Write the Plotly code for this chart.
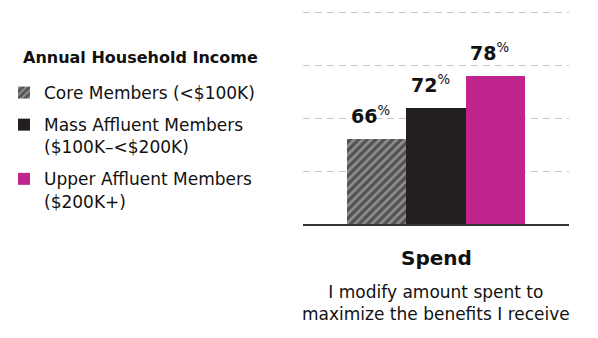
import plotly.graph_objects as go

groups = ["Core Members (<$100K)", "Mass Affluent Members<br>($100K–<$200K)", "Upper Affluent Members<br>($200K+)"]
values = [66, 72, 78]
colors = ["#8e8e8e", "#231f20", "#c0258e"]
category = "Spend"
description = "I modify amount spent to<br>maximize the benefits I receive"
legend_title = "Annual Household Income"

FONT = "DejaVu Sans"
W, H = 598, 338
L, R, T, B = 303, 29, 0, 114
def px_x(p):
    return (p - L) / (W - L - R)
def px_y(p):
    return (H - B - p) / (H - B - T)

fig = go.Figure()
for i, (g, v, c) in enumerate(zip(groups, values, colors)):
    marker = dict(color=c, line=dict(width=0))
    if i == 0:
        marker["pattern"] = dict(shape="/", fgcolor="#151515", size=6, solidity=0.55)
    fig.add_trace(go.Bar(x=[g], y=[v], name=g, marker=marker, width=1, hoverinfo="skip",
                         legendgroup=f"g{i}"))
    fig.add_annotation(x=g, y=v, text=f"<b>{v}</b><sup>%</sup>", showarrow=False,
                       yanchor="bottom", yshift=10, xshift=-6,
                       font=dict(family=FONT, size=19, color="#111"))

fig.add_annotation(xref="paper", yref="paper", x=0.5, y=px_y(258), text=f"<b>{category}</b>",
                   showarrow=False, font=dict(family=FONT, size=20, color="#111"), yanchor="middle")
fig.add_annotation(xref="paper", yref="paper", x=0.5, y=px_y(302.5), text=description,
                   showarrow=False, font=dict(family=FONT, size=17, color="#111"), yanchor="middle")
fig.add_annotation(xref="paper", yref="paper", x=px_x(21), y=px_y(57), text=f"<b>{legend_title}</b>",
                   showarrow=False, xanchor="left", yanchor="middle",
                   font=dict(family=FONT, size=16, color="#111"))

fig.update_layout(
    width=W, height=H,
    margin=dict(l=L, r=R, t=T, b=B),
    plot_bgcolor="white", paper_bgcolor="white",
    barmode="overlay", bargap=0,
    showlegend=True,
    legend=dict(xref="container", yref="container", x=4 / W, y=1 - 75 / H,
                xanchor="left", yanchor="top", valign="top",
                font=dict(family=FONT, size=17, color="#111"),
                tracegroupgap=7, bgcolor="rgba(0,0,0,0)"),
    xaxis=dict(range=[-1.23, 3.23], showticklabels=False, showgrid=False, zeroline=False,
               showline=True, linecolor="#333", linewidth=2, ticks=""),
    yaxis=dict(range=[50, 92.4], dtick=10, showticklabels=False, showgrid=True,
               gridcolor="#c8c8c8", griddash="7px,5px", gridwidth=1.3, zeroline=False, ticks=""),
)
fig.write_html("out.html")
